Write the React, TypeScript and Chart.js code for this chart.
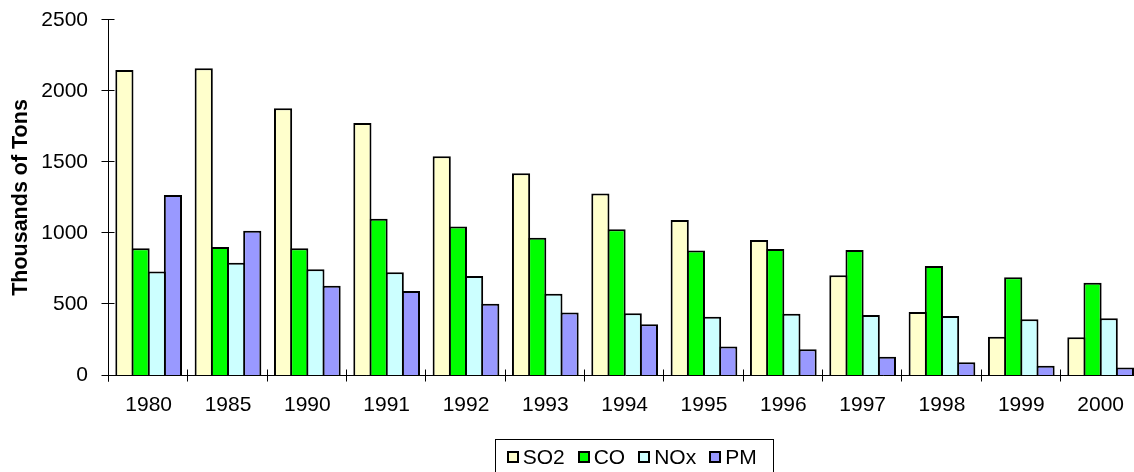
import React, { useEffect, useRef } from "react";
import { Chart, registerables } from "chart.js";

Chart.register(...registerables);

const categories = ["1980", "1985", "1990", "1991", "1992", "1993", "1994", "1995", "1996", "1997", "1998", "1999", "2000"];
const so2 = [2148, 2160, 1878, 1775, 1540, 1420, 1279, 1092, 951, 702, 444, 270, 265];
const co = [892, 901, 892, 1101, 1045, 967, 1026, 876, 887, 880, 768, 688, 650];
const nox = [728, 791, 744, 723, 697, 573, 434, 411, 432, 423, 415, 392, 399];
const pm = [1268, 1016, 629, 592, 502, 441, 357, 200, 181, 129, 89, 66, 52];
const seriesLabels = ["SO2", "CO", "NOx", "PM"];
const seriesColors = ["#FFFFCC", "#00FF00", "#CCFFFF", "#9999FF"];
const yTickValues = [0, 500, 1000, 1500, 2000, 2500];
const yTitle = "Thousands of Tons";

const FONT = '"Liberation Sans", Arial, sans-serif';

const axesPlugin = {
  id: "excelAxes",
  afterDatasetsDraw(chart: any) {
    const { ctx, chartArea, scales } = chart;
    const x = scales.x;
    const y = scales.y;
    ctx.save();
    ctx.strokeStyle = "#000";
    ctx.lineWidth = 1;
    const left = Math.round(chartArea.left) - 0.5;
    const bottom = Math.round(y.getPixelForValue(0)) + 0.5;
    const top = Math.round(y.getPixelForValue(yTickValues[yTickValues.length - 1])) - 0.5;
    ctx.beginPath();
    ctx.moveTo(left, top);
    ctx.lineTo(left, bottom + 6);
    ctx.moveTo(left, bottom);
    ctx.lineTo(chartArea.right + 2, bottom);
    yTickValues.forEach((v) => {
      const yy = Math.round(y.getPixelForValue(v)) + (v === 0 ? 0.5 : -0.5);
      ctx.moveTo(left - 7, yy);
      ctx.lineTo(left + 6, yy);
    });
    const half = (x.getPixelForValue(1) - x.getPixelForValue(0)) / 2;
    for (let i = 0; i <= categories.length; i++) {
      const xx = Math.round(x.getPixelForValue(i) - half) - 0.5;
      ctx.moveTo(xx, bottom - 6);
      ctx.lineTo(xx, bottom + 6);
    }
    ctx.stroke();
    ctx.restore();
  },
};

const legendPlugin = {
  id: "boxedLegend",
  afterDraw(chart: any) {
    const { ctx, chartArea } = chart;
    const datasets = chart.data.datasets;
    ctx.save();
    ctx.font = "21px " + FONT;
    ctx.textBaseline = "middle";
    ctx.textAlign = "left";
    const box = 12;
    const gapBoxText = 4;
    const gapItems = 13;
    const widths = datasets.map((d: any) => ctx.measureText(d.label).width);
    let total = 0;
    widths.forEach((w: number, i: number) => {
      total += box + gapBoxText + w + (i > 0 ? gapItems : 0);
    });
    const center = (chartArea.left + chartArea.right) / 2 + 9;
    const frameW = 278;
    const frameTop = chartArea.bottom + 64.5;
    ctx.strokeStyle = "#000";
    ctx.lineWidth = 1;
    ctx.strokeRect(Math.round(center - frameW / 2) + 0.5, frameTop, frameW, 80);
    let cx = center - total / 2 - 2;
    const cy = frameTop + 17.5;
    datasets.forEach((d: any, i: number) => {
      ctx.fillStyle = "#000";
      ctx.fillRect(Math.round(cx), Math.round(cy - box / 2), box, box);
      ctx.fillStyle = d.backgroundColor;
      ctx.fillRect(Math.round(cx) + 2, Math.round(cy - box / 2) + 2, box - 4, box - 4);
      ctx.fillStyle = "#000";
      ctx.fillText(d.label, cx + box + gapBoxText, cy + 1);
      cx += box + gapBoxText + widths[i] + gapItems;
    });
    ctx.restore();
  },
};

export default function App() {
  const canvasRef = useRef<HTMLCanvasElement | null>(null);

  useEffect(() => {
    if (!canvasRef.current) return;
    const seriesValues = [so2, co, nox, pm];
    const chart = new Chart(canvasRef.current, {
      type: "bar",
      data: {
        labels: categories,
        datasets: seriesLabels.map((label, i) => ({
          label,
          data: seriesValues[i],
          backgroundColor: seriesColors[i],
          borderColor: "#000",
          borderWidth: 2,
          borderSkipped: "bottom" as const,
          categoryPercentage: 0.8156,
          barPercentage: 1.1237,
        })),
      },
      options: {
        animation: false,
        responsive: false,
        devicePixelRatio: 1,
        layout: { padding: { left: 0, top: 20, right: 9.7, bottom: 60 } },
        plugins: {
          legend: { display: false },
          tooltip: { enabled: false },
          title: { display: false },
        },
        scales: {
          x: {
            type: "category",
            offset: true,
            grid: { display: false, drawTicks: false },
            border: { display: false },
            ticks: {
              color: "#000",
              font: { family: FONT, size: 21 },
              padding: 18,
              maxRotation: 0,
              autoSkip: false,
            },
            afterFit(scale: any) {
              scale.height = 45;
            },
          },
          y: {
            min: 0,
            max: 2500,
            grid: { display: false, drawTicks: false },
            border: { display: false },
            ticks: {
              stepSize: 500,
              color: "#000",
              font: { family: FONT, size: 21 },
              padding: 21,
              callback: (v: any) => String(v),
            },
            title: {
              display: true,
              text: yTitle,
              color: "#000",
              font: { family: FONT, size: 21.5, weight: "bold" },
              padding: { top: 8, bottom: 0 },
            },
            afterFit(scale: any) {
              scale.width = 109;
              scale.paddingTop = 0;
            },
          },
        },
      },
      plugins: [
        axesPlugin,
        legendPlugin,
        {
          id: "fixArea",
          afterLayout(chart: any) {
            // nothing: layout handled by options
          },
        },
      ],
    });
    // Adjust the top padding so that the plot area begins at the intended position
    const wantTop = 20;
    const diff = chart.chartArea.top - wantTop;
    if (Math.abs(diff) > 0.5) {
      (chart.options.layout as any).padding.top = 20 - diff;
      chart.update();
    }
    return () => chart.destroy();
  }, []);

  return (
    <div
      style={{
        position: "fixed",
        left: 0,
        top: 0,
        width: 1134,
        height: 472,
        overflow: "hidden",
        background: "#fff",
      }}
    >
      <canvas ref={canvasRef} width={1150} height={480} style={{ display: "block", width: 1150, height: 480 }} />
    </div>
  );
}
